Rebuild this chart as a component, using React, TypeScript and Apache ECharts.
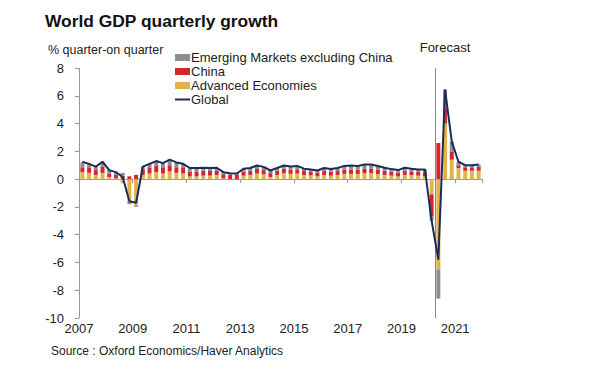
import React, { useEffect, useRef } from "react";
import * as echarts from "echarts";

const startYear = 2007;
const endYear = 2021;
const tickYears = [2007, 2009, 2011, 2013, 2015, 2017, 2019, 2021];
const forecastStartQuarter = 53; // 2020Q2 (index from 2007Q1)

// contributions to world GDP q/q growth, % (2007Q1 .. 2021Q4)
const advanced = [
  0.5, 0.45, 0.3, 0.45,
  0.15, 0.05, -0.3, -1.6,
  -1.9, 0.3, 0.4, 0.5,
  0.4, 0.55, 0.45, 0.4,
  0.2, 0.2, 0.25, 0.25,
  0.3, 0.05, 0.0, 0.0,
  0.25, 0.3, 0.4, 0.35,
  0.15, 0.3, 0.42, 0.38,
  0.4, 0.3, 0.27, 0.2,
  0.3, 0.25, 0.3, 0.38,
  0.38, 0.37, 0.42, 0.42,
  0.37, 0.3, 0.25, 0.2,
  0.3, 0.28, 0.25, 0.2,
  -1.1, -6.5, 4.0, 1.4,
  0.8, 0.6, 0.6, 0.6,
];
const china = [
  0.35, 0.35, 0.35, 0.45,
  0.25, 0.25, 0.25, 0.2,
  0.3, 0.4, 0.4, 0.45,
  0.4, 0.45, 0.4, 0.4,
  0.35, 0.35, 0.35, 0.35,
  0.3, 0.3, 0.3, 0.3,
  0.3, 0.3, 0.33, 0.3,
  0.28, 0.3, 0.32, 0.3,
  0.3, 0.28, 0.28, 0.28,
  0.28, 0.28, 0.28, 0.3,
  0.3, 0.3, 0.32, 0.32,
  0.3, 0.3, 0.28, 0.27,
  0.3, 0.28, 0.27, 0.3,
  -1.6, 2.6, 1.1, 0.6,
  0.2, 0.25, 0.25, 0.28,
];
const emergingExChina = [
  0.35, 0.3, 0.25, 0.35,
  0.25, 0.2, 0.2, -0.2,
  -0.1, 0.2, 0.3, 0.35,
  0.35, 0.4, 0.35, 0.3,
  0.25, 0.25, 0.22, 0.2,
  0.22, 0.15, 0.12, 0.1,
  0.2, 0.2, 0.25, 0.23,
  0.19, 0.2, 0.24, 0.22,
  0.25, 0.17, 0.15, 0.14,
  0.22, 0.19, 0.22, 0.27,
  0.3, 0.28, 0.31, 0.31,
  0.28, 0.22, 0.19, 0.18,
  0.22, 0.19, 0.18, 0.2,
  -0.3, -2.1, 1.35, 0.7,
  0.25, 0.15, 0.15, 0.17,
];
const globalGrowth = [
  1.25, 1.1, 0.9, 1.25,
  0.65, 0.5, 0.15, -1.6,
  -1.7, 0.9, 1.1, 1.3,
  1.15, 1.4, 1.2, 1.1,
  0.8, 0.8, 0.82, 0.8,
  0.82, 0.5, 0.42, 0.4,
  0.75, 0.8, 0.98, 0.88,
  0.62, 0.8, 0.98, 0.9,
  0.95, 0.75, 0.7, 0.62,
  0.8, 0.72, 0.8, 0.95,
  0.98, 0.95, 1.05, 1.05,
  0.95, 0.82, 0.72, 0.65,
  0.82, 0.75, 0.7, 0.7,
  -3.0, -5.8, 6.45, 2.7,
  1.25, 1.0, 1.0, 1.05,
];

const quarters: string[] = [];
for (let y = startYear; y <= endYear; y++) {
  for (let q = 1; q <= 4; q++) quarters.push(`${y}Q${q}`);
}

const FONT = "Liberation Sans, Arial, sans-serif";

export default function App() {
  const ref = useRef<HTMLDivElement>(null);
  useEffect(() => {
    if (!ref.current) return;
    const chart = echarts.init(ref.current, undefined, { renderer: "svg" });
    const n = quarters.length;
    const tickVals = tickYears.map((y) => (y - startYear) * 4);
    const barCommon = {
      type: "bar",
      stack: "gdp",
      barWidth: 4,
      xAxisIndex: 0,
      yAxisIndex: 0,
    };
    chart.setOption({
      animation: false,
      textStyle: { fontFamily: FONT },
      title: [
        {
          text: "World GDP quarterly growth",
          left: 40,
          top: 7,
          textStyle: { fontFamily: FONT, fontSize: 17.4, fontWeight: "bold", color: "#111" },
        },
        {
          text: "% quarter-on quarter",
          left: 43,
          top: 38,
          textStyle: { fontFamily: FONT, fontSize: 12.5, fontWeight: "normal", color: "#222" },
        },
        {
          text: "Source : Oxford Economics/Haver Analytics",
          left: 46,
          top: 340,
          textStyle: { fontFamily: FONT, fontSize: 12, fontWeight: "normal", color: "#222" },
        },
      ],
      legend: {
        orient: "vertical",
        left: 174,
        top: 51,
        itemWidth: 15,
        itemHeight: 7,
        itemGap: 1,
        padding: 0,
        textStyle: { fontFamily: FONT, fontSize: 13, color: "#222", padding: [0, 0, 0, -4] },
        data: [
          { name: "Emerging Markets excluding China", icon: "rect" },
          { name: "China", icon: "rect" },
          { name: "Advanced Economies", icon: "rect" },
          { name: "Global", itemStyle: { opacity: 0 } },
        ],
      },
      grid: { left: 79, right: 118, top: 68, bottom: 57, containLabel: false },
      xAxis: [
        {
          type: "category",
          data: quarters,
          boundaryGap: true,
          axisLine: { show: true, onZero: true, lineStyle: { color: "#999", width: 1 } },
          axisTick: {
            show: true,
            length: 4,
            interval: (i: number) => i % 8 === 0,
            lineStyle: { color: "#999" },
          },
          axisLabel: { show: false },
          splitLine: { show: false },
        },
        {
          type: "value",
          min: 0,
          max: n,
          position: "bottom",
          axisLine: { show: false, onZero: false },
          axisTick: { show: false },
          axisLabel: {
            show: true,
            customValues: tickVals,
            formatter: (v: number) => String(startYear + v / 4),
            fontFamily: FONT,
            fontSize: 13,
            color: "#222",
            margin: 4,
          },
          splitLine: { show: false },
        },
      ],
      yAxis: {
        type: "value",
        min: -10,
        max: 8,
        interval: 2,
        axisLine: { show: true, lineStyle: { color: "#999" } },
        axisTick: { show: true, length: 4, lineStyle: { color: "#999" } },
        axisLabel: { fontFamily: FONT, fontSize: 13, color: "#222", margin: 15 },
        splitLine: { show: false },
      },
      series: [
        {
          ...barCommon,
          name: "Advanced Economies",
          data: advanced,
          itemStyle: { color: "#E2B34A" },
        },
        {
          ...barCommon,
          name: "China",
          data: china,
          itemStyle: { color: "#D3262E" },
        },
        {
          ...barCommon,
          name: "Emerging Markets excluding China",
          data: emergingExChina,
          itemStyle: { color: "#8E8E8E" },
        },
        {
          type: "line",
          name: "Global",
          xAxisIndex: 1,
          data: globalGrowth.map((v, i) => [i + 0.5, v]),
          symbol: "none",
          z: 5,
          lineStyle: { color: "#1D2C58", width: 2 },
          itemStyle: { color: "#1D2C58" },
          markLine: {
            silent: true,
            symbol: "none",
            lineStyle: { color: "#888", type: "solid", width: 1 },
            label: {
              show: true,
              position: "end",
              formatter: "Forecast",
              fontFamily: FONT,
              fontSize: 13,
              color: "#222",
              distance: 14,
              offset: [10, 0],
            },
            data: [{ xAxis: forecastStartQuarter }],
          },
        },
      ],
    });
    return () => chart.dispose();
  }, []);
  return (
    <div
      ref={ref}
      style={{ position: "fixed", left: 0, top: 0, width: 600, height: 375, background: "#fff" }}
    />
  );
}
